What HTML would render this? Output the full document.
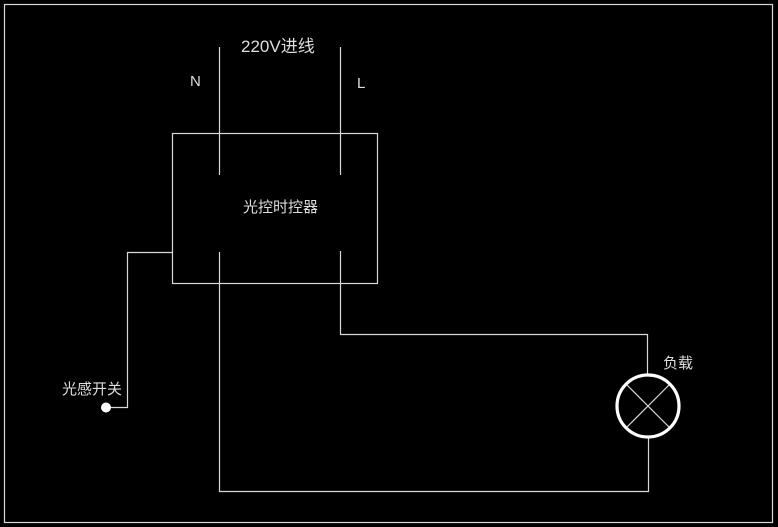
<!DOCTYPE html>
<html><head><meta charset="utf-8"><style>
html,body{margin:0;padding:0;background:#000;width:778px;height:527px;overflow:hidden}
text{font-family:"Liberation Sans","Noto Sans CJK SC",sans-serif;fill:#ddd}
</style></head><body>
<svg width="778" height="527" xmlns="http://www.w3.org/2000/svg">
<g fill="none" stroke="#d8d8d8" stroke-width="1.2">
<rect x="4.5" y="4.5" width="768" height="518"/>
<rect x="172.5" y="133.5" width="205" height="150"/>
<line x1="219.5" y1="47" x2="219.5" y2="175"/>
<line x1="340.5" y1="47" x2="340.5" y2="175"/>
<polyline points="219.5,252 219.5,491.5 648.5,491.5 648.5,437"/>
<polyline points="340.5,251 340.5,334.5 647.5,334.5 647.5,375"/>
<polyline points="172,252.5 127.5,252.5 127.5,407.5 106,407.5"/>
<line x1="626" y1="384" x2="670" y2="428"/>
<line x1="670" y1="384" x2="626" y2="428"/>
</g>
<circle cx="648" cy="406" r="31" fill="none" stroke="#fff" stroke-width="3.2"/>
<circle cx="106" cy="407.5" r="5" fill="#fff"/>
<text x="241" y="52" font-size="17">220V进线</text>
<text x="190" y="86" font-size="15">N</text>
<text x="357" y="88" font-size="15">L</text>
<text x="243" y="212" font-size="15">光控时控器</text>
<text x="663" y="368" font-size="15">负载</text>
<text x="62" y="394" font-size="15">光感开关</text>
</svg>
</body></html>
